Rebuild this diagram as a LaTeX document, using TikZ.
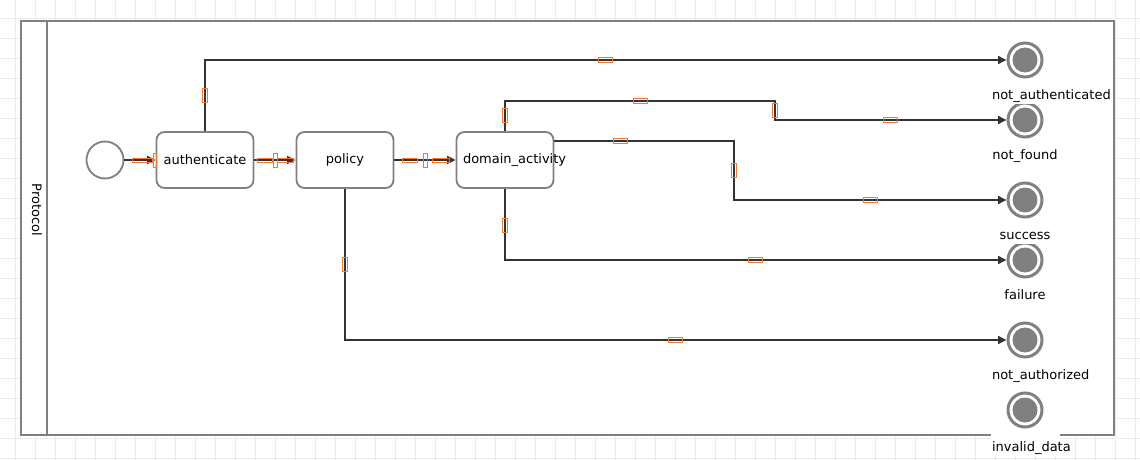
\documentclass[tikz,border=0pt]{standalone}
\usepackage{fontspec}
\setmainfont{DejaVu Sans}
\usetikzlibrary{positioning,arrows.meta}

\definecolor{shapegray}{HTML}{808080}
\definecolor{linegray}{HTML}{333333}
\definecolor{gridgray}{HTML}{EBEBEB}
\definecolor{handleorange}{HTML}{F07830}

\tikzset{
  task/.style={draw=shapegray, line width=1.8pt, rounded corners=8pt, fill=white,
    minimum width=97pt, minimum height=56pt, inner sep=0pt,
    text width=84pt, align=center},
  startevent/.style={circle, draw=shapegray, line width=1.8pt, fill=white,
    minimum size=37pt, inner sep=0pt},
  endevent/.style={circle, draw=shapegray, line width=3pt, fill=white,
    minimum size=34pt, inner sep=0pt,
    path picture={\fill[shapegray] (path picture bounding box.center) circle (12.5pt);}},
  endlabel/.style={fill=white, inner sep=1.5pt, text height=9.7pt, text depth=3pt,
    text width=66pt, align=center},
  flow/.style={draw=linegray, line width=1.8pt, -{Triangle[length=8.5pt,width=8pt]}},
  handle/.style={draw=handleorange, line width=1pt},
  gridline/.style={draw=gridgray, line width=0.6pt},
  pool/.style={draw=shapegray, line width=1.8pt, fill=white}
}

\begin{document}
\begin{tikzpicture}[x=1pt, y=-1pt, font=\fontsize{13}{15}\selectfont,
    execute at begin node={\hyphenpenalty=10000 \exhyphenpenalty=10000 \hbadness=10000 \hfuzz=200pt}]
  \useasboundingbox (0,0) rectangle (1140,460);
  \fill[white] (0,0) rectangle (1140,460);
  % background grid
  \foreach \x in {15,35,...,1135} \draw[gridline] (\x,0) -- (\x,460);
  \foreach \y in {18,38,...,458} \draw[gridline] (0,\y) -- (1140,\y);

  % pool and lane header
  \draw[pool] (21,21) rectangle (1114,435);
  \draw[pool] (47,21) -- (47,435);
  \node[rotate=-90, inner sep=0pt] (lane) at (37,210) {Protocol};

  % tasks
  \node[startevent] (start) at (105,160) {};
  \node[task] (auth) at (205,160) {authenticate};
  \node[task, right=41.2pt of auth] (pol) {policy};
  \node[task, right=61.2pt of pol] (dom) {domain\_activity};

  % end events
  \node[endevent] (notauth) at (1025,60) {};
  \node[endevent] (notfound) at (1025,120) {};
  \node[endevent] (succ) at (1025,200) {};
  \node[endevent] (fail) at (1025,260) {};
  \node[endevent] (notauthz) at (1025,340) {};
  \node[endevent] (invalid) at (1025,410) {};

  \node[endlabel, below=9.3pt of notauth] (notauth-l) {not\_authenticated};
  \node[endlabel, below=9.3pt of notfound] (notfound-l) {not\_found};
  \node[endlabel, below=9.3pt of succ] (succ-l) {success};
  \node[endlabel, below=9.3pt of fail] (fail-l) {failure};
  \node[endlabel, below=9.3pt of notauthz] (notauthz-l) {not\_authorized};
  \node[endlabel, text height=17pt, below=4pt of invalid] (invalid-l) {invalid\_data};

  % bends
  \coordinate (b1) at (775,101);
  \coordinate (b2) at (734,200);

  % flows
  \draw[flow] (start) -- (auth);
  \draw[flow] (auth) -- (pol);
  \draw[flow] (pol) -- (dom);
  \draw[flow] (auth.north) |- (notauth);
  \draw[flow] (dom.north) |- (b1) |- (notfound);
  \draw[flow] ([yshift=19pt]dom.east) -| (b2) -- (succ);
  \draw[flow] (dom.south) |- (fail);
  \draw[flow] (pol.south) |- (notauthz);

  % edge handles
  \foreach \x/\y/\w/\h in {605/60/7/2.5, 640/101/7/2.5, 890/120/7/2.5, 620/141/7/2.5,
      870/200/7/2.5, 755/260/7/2.5, 675/340/7/2.5,
      205/95/2.5/7, 505/115/2.5/7, 775/110/2.5/7, 734/170/2.5/7, 505/225/2.5/7, 345/264/2.5/7,
      142/160/10/2, 154.5/160/1.5/7, 265/160/7.5/2, 275/160/2/7, 285/160/8/2,
      410/160/7.5/2, 425/160/2/7, 441/160/8.5/2}
    \draw[handle] ({\x-\w},{\y-\h}) rectangle ({\x+\w},{\y+\h});
\end{tikzpicture}
\end{document}
